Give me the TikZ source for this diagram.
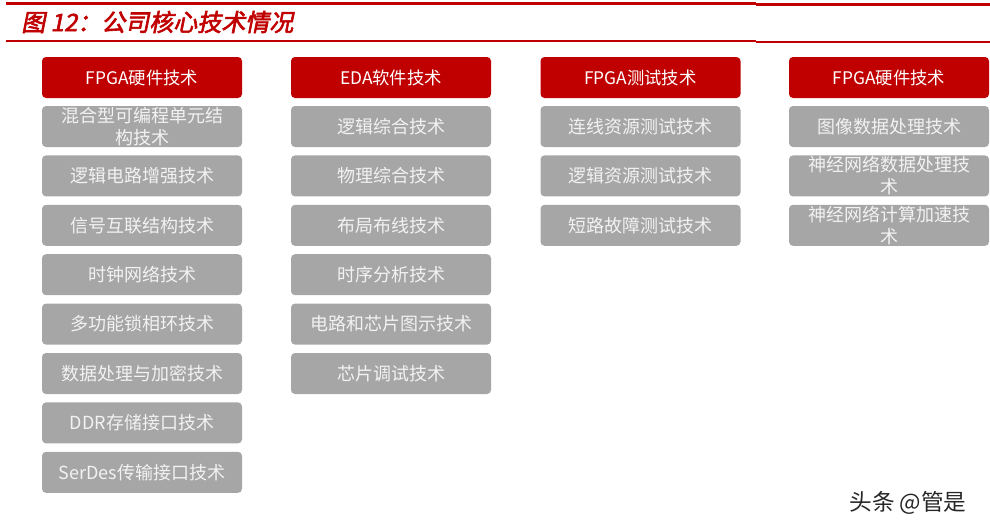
\documentclass[tikz,border=0pt]{standalone}
\usepackage{fontspec}
\usepackage{tikz}
\usetikzlibrary{positioning}
\newfontfamily\cjk{Noto Sans CJK SC}
\newfontfamily\cjktitle[FakeSlant=0.2,FakeBold=2.5]{Noto Sans CJK SC}
\definecolor{darkred}{HTML}{C00000}
\definecolor{boxgrey}{HTML}{A6A6A6}
\definecolor{textgrey}{HTML}{F2F2F2}
\tikzset{
  head/.style={fill=darkred, rounded corners=3pt, minimum width=150pt, minimum height=30.75pt,
    inner sep=0pt, text=white, font=\cjk\fontsize{13}{15}\selectfont},
  item/.style={fill=boxgrey, rounded corners=3pt, minimum width=150pt, minimum height=30.75pt,
    inner sep=0pt, text=textgrey, align=center, font=\cjk\fontsize{13.5}{16.5}\selectfont}
}

\begin{document}
\begin{tikzpicture}[x=0.75pt, y=-0.75pt, node distance=37.05pt, on grid]
        \useasboundingbox (0,0) rectangle (990,532);
        % Kopfzeile
        \draw[darkred, line width=2.25pt] (6,3)--(756,3);
        \draw[darkred, line width=2.25pt] (756,4)--(990,4);
        \draw[darkred, line width=1.5pt] (6,41)--(756,41);
        \draw[darkred, line width=1.5pt] (756,42)--(990,42);
        \node[anchor=west, inner sep=0pt, text=darkred, font=\cjktitle\fontsize{18}{20}\selectfont] (title) at (21,22) {图 12：公司核心技术情况};
        % Spalte 1
        \node[head] (hw) at (142,77.5) {FPGA硬件技术};
        \node[item, below=36.75pt of hw] (hw1) {混合型可编程单元结\\构技术};
        \node[item, below=of hw1] (hw2) {逻辑电路增强技术};
        \node[item, below=of hw2] (hw3) {信号互联结构技术};
        \node[item, below=of hw3] (hw4) {时钟网络技术};
        \node[item, below=of hw4] (hw5) {多功能锁相环技术};
        \node[item, below=of hw5] (hw6) {数据处理与加密技术};
        \node[item, below=of hw6] (hw7) {DDR存储接口技术};
        \node[item, below=of hw7] (hw8) {SerDes传输接口技术};
        % Spalte 2
        \node[head] (eda) at (391,77.5) {EDA软件技术};
        \node[item, below=36.75pt of eda] (eda1) {逻辑综合技术};
        \node[item, below=of eda1] (eda2) {物理综合技术};
        \node[item, below=of eda2] (eda3) {布局布线技术};
        \node[item, below=of eda3] (eda4) {时序分析技术};
        \node[item, below=of eda4] (eda5) {电路和芯片图示技术};
        \node[item, below=of eda5] (eda6) {芯片调试技术};
        % Spalte 3
        \node[head] (test) at (640.5,77.5) {FPGA测试技术};
        \node[item, below=36.75pt of test] (test1) {连线资源测试技术};
        \node[item, below=of test1] (test2) {逻辑资源测试技术};
        \node[item, below=of test2] (test3) {短路故障测试技术};
        % Spalte 4
        \node[head] (app) at (889,77.5) {FPGA硬件技术};
        \node[item, below=36.75pt of app] (app1) {图像数据处理技术};
        \node[item, below=of app1] (app2) {神经网络数据处理技\\术};
        \node[item, below=of app2] (app3) {神经网络计算加速技\\术};
        % Wasserzeichen
        \node[inner sep=0pt, text=black!85, font=\cjk\fontsize{17}{20}\selectfont] (mark) at (908,503) {头条 @管是};
      \end{tikzpicture}
\end{document}
